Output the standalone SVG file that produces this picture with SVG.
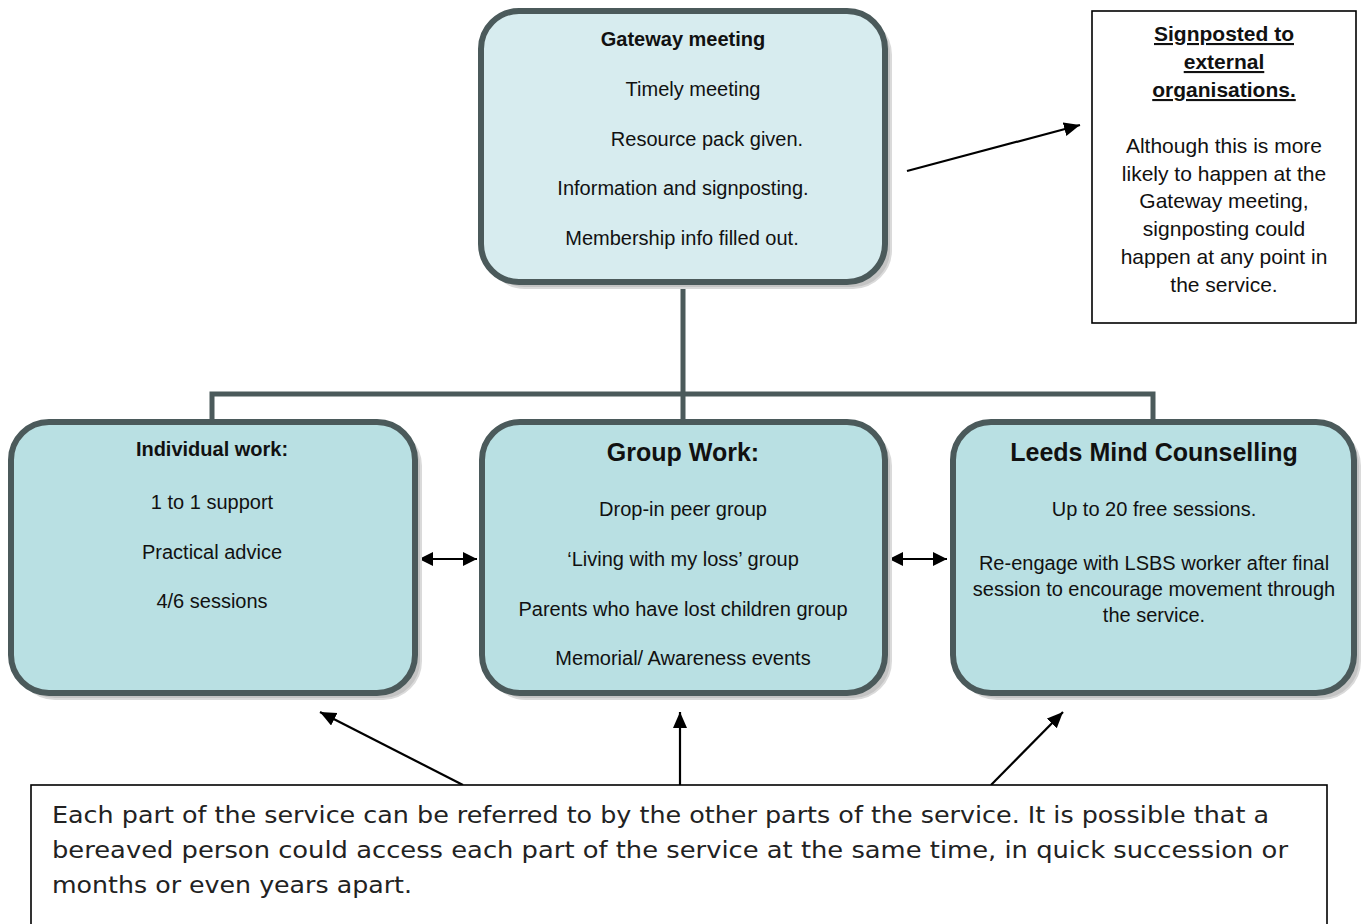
<svg xmlns="http://www.w3.org/2000/svg" width="1364" height="924" viewBox="0 0 1364 924">
<style>
.shadow{fill:#c4c4c4;stroke:#dadada;stroke-width:2}
.box{stroke:#4b5a5b;stroke-width:6}
.top{fill:#d7ecef}
.low{fill:#b9e0e3}
.t{font-family:"Liberation Sans",Arial,sans-serif;font-size:20px;fill:#111;text-anchor:middle}
.b{font-weight:bold}
.big{font-size:25px}
.sp{font-size:21px}
.tree{stroke:#4b5a5b;stroke-width:5;fill:none}
.arr{stroke:#000;stroke-width:2.2;fill:none}
.note{font-family:"DejaVu Sans",Verdana,sans-serif;font-size:23.5px;fill:#222}
</style>
<defs>
<marker id="ah" markerUnits="userSpaceOnUse" markerWidth="18" markerHeight="16" refX="16" refY="7" orient="auto"><path d="M0,0 L16,7 L0,14 z" fill="#000"/></marker>
<marker id="ahs" markerUnits="userSpaceOnUse" markerWidth="16" markerHeight="16" refX="14" refY="7" orient="auto"><path d="M0,0 L14,7 L0,14 z" fill="#000"/></marker>
<marker id="ahsr" markerUnits="userSpaceOnUse" markerWidth="16" markerHeight="16" refX="0" refY="7" orient="auto"><path d="M14,0 L0,7 L14,14 z" fill="#000"/></marker>
</defs>
<rect width="1364" height="924" fill="#fff"/>

<g id="connectors">
<path class="tree" d="M683,285 V419 M212,419 V394 H1153 V419"/>
<line class="arr" x1="907" y1="171" x2="1080" y2="125" marker-end="url(#ah)"/>
<line class="arr" x1="419" y1="559" x2="477" y2="559" marker-start="url(#ahsr)" marker-end="url(#ahs)"/>
<line class="arr" x1="889" y1="559" x2="947" y2="559" marker-start="url(#ahsr)" marker-end="url(#ahs)"/>
<line class="arr" x1="463" y1="785" x2="320" y2="712" marker-end="url(#ah)"/>
<line class="arr" x1="680" y1="785" x2="680" y2="712" marker-end="url(#ah)"/>
<line class="arr" x1="991" y1="785" x2="1063" y2="712" marker-end="url(#ah)"/>
</g>

<g id="gateway">
<rect class="shadow" x="487" y="17" width="404" height="271" rx="38"/>
<rect class="box top" x="481" y="11" width="404" height="271" rx="38"/>
<text class="t b" x="683" y="46">Gateway meeting</text>
<text class="t" x="693" y="96">Timely meeting</text>
<text class="t" x="707" y="146">Resource pack given.</text>
<text class="t" x="683" y="195">Information and signposting.</text>
<text class="t" x="682" y="245">Membership info filled out.</text>
</g>

<g id="signposted">
<rect x="1092" y="11" width="264" height="312" fill="#fff" stroke="#000" stroke-width="1.6"/>
<text class="t sp b" x="1224" y="41" text-decoration="underline">Signposted to</text>
<text class="t sp b" x="1224" y="69" text-decoration="underline">external</text>
<text class="t sp b" x="1224" y="97" text-decoration="underline">organisations.</text>
<text class="t sp" x="1224" y="153">Although this is more</text>
<text class="t sp" x="1224" y="181">likely to happen at the</text>
<text class="t sp" x="1224" y="208">Gateway meeting,</text>
<text class="t sp" x="1224" y="236">signposting could</text>
<text class="t sp" x="1224" y="264">happen at any point in</text>
<text class="t sp" x="1224" y="292">the service.</text>
</g>

<g id="individual">
<rect class="shadow" x="17" y="428" width="404" height="271" rx="38"/>
<rect class="box low" x="11" y="422" width="404" height="271" rx="38"/>
<text class="t b" x="212" y="456">Individual work:</text>
<text class="t" x="212" y="509">1 to 1 support</text>
<text class="t" x="212" y="559">Practical advice</text>
<text class="t" x="212" y="608">4/6 sessions</text>
</g>

<g id="group">
<rect class="shadow" x="488" y="428" width="403" height="271" rx="38"/>
<rect class="box low" x="482" y="422" width="403" height="271" rx="38"/>
<text class="t b big" x="683" y="461">Group Work:</text>
<text class="t" x="683" y="516">Drop-in peer group</text>
<text class="t" x="683" y="566">‘Living with my loss’ group</text>
<text class="t" x="683" y="616">Parents who have lost children group</text>
<text class="t" x="683" y="665">Memorial/ Awareness events</text>
</g>

<g id="counselling">
<rect class="shadow" x="959" y="428" width="401" height="271" rx="38"/>
<rect class="box low" x="953" y="422" width="401" height="271" rx="38"/>
<text class="t b big" x="1154" y="461">Leeds Mind Counselling</text>
<text class="t" x="1154" y="516">Up to 20 free sessions.</text>
<text class="t" x="1154" y="570">Re-engage with LSBS worker after final</text>
<text class="t" x="1154" y="596">session to encourage movement through</text>
<text class="t" x="1154" y="622">the service.</text>
</g>

<g id="note">
<rect x="31" y="785" width="1296" height="150" fill="#fff" stroke="#000" stroke-width="1.6"/>
<text class="note" x="52" y="823" textLength="1217" lengthAdjust="spacingAndGlyphs">Each part of the service can be referred to by the other parts of the service. It is possible that a</text>
<text class="note" x="52" y="858" textLength="1236" lengthAdjust="spacingAndGlyphs">bereaved person could access each part of the service at the same time, in quick succession or</text>
<text class="note" x="52" y="893" textLength="360" lengthAdjust="spacingAndGlyphs">months or even years apart.</text>
</g>
</svg>
